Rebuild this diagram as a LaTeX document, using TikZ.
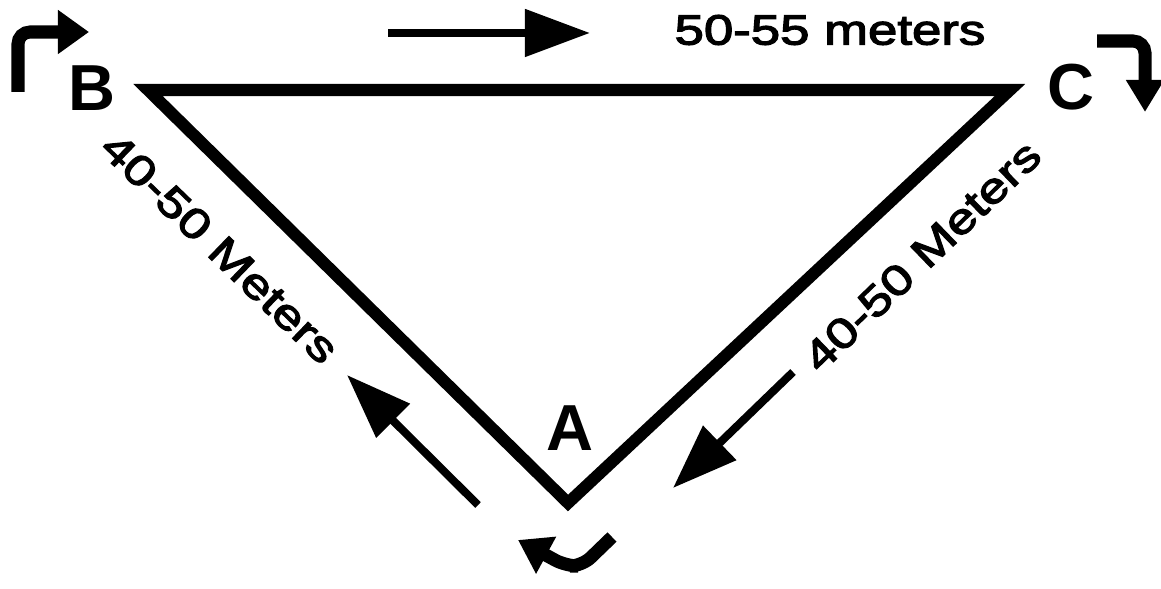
\documentclass[tikz,border=0pt]{standalone}
\usepackage{fontspec}
\setmainfont{Liberation Sans}
\newfontfamily\widefont[FakeStretch=1.25,FakeBold=3]{Liberation Sans}
\usetikzlibrary{arrows.meta}

\begin{document}
\begin{tikzpicture}[x=0.01cm,y=-0.01cm,
	side/.style={line width=0.12cm,line join=miter},
	move/.style={line width=0.08cm,-{Triangle[length=0.65cm,width=0.46cm]}},
	turn/.style={line width=0.13cm,rounded corners=0.12cm},
	corner/.style={font=\bfseries\fontsize{18.5}{20}\selectfont},
	dist/.style={font=\widefont\fontsize{12}{14}\selectfont}]
		\useasboundingbox (0,0) rectangle (1161,588);
		\coordinate (B) at (148,90);
		\coordinate (C) at (1010,90);
		\coordinate (A) at (568,503);
		\draw[side] (B) -- (C) -- (A) -- cycle;
		\node[corner] (labB) at (92,88) {B};
		\node[corner] (labC) at (1071,87) {C};
		\node[corner] (labA) at (570,428) {A};
		\node[dist] (distBC) at (830,30) {50-55 meters};
		\node[dist,rotate=-44] (distBA) at (220,248) {40-50 Meters};
		\node[dist,rotate=44] (distCA) at (922,256) {40-50 Meters};
		\coordinate (topTail) at (388,33);
		\coordinate (topTip) at (590,33);
		\coordinate (leftTail) at (478,505);
		\coordinate (leftTip) at (347,375);
		\coordinate (rightTail) at (793,372);
		\coordinate (rightTip) at (673,488);
		\draw[move] (topTail) -- (topTip);
		\draw[move] (leftTail) -- (leftTip);
		\draw[move] (rightTail) -- (rightTip);
		\coordinate (turnBStart) at (18,92);
		\coordinate (turnBEnd) at (89,32);
		\coordinate (turnCStart) at (1097,41);
		\coordinate (turnCEnd) at (1145,112);
		\coordinate (turnAStart) at (612,537);
		\coordinate (turnAEnd) at (518,540);
		\draw[turn,-{Triangle[length=0.31cm,width=0.42cm]}] (turnBStart) |- (turnBEnd);
		\draw[turn,-{Triangle[length=0.32cm,width=0.36cm]}] (turnCStart) -| (turnCEnd);
		\draw[turn,-{Triangle[length=0.32cm,width=0.40cm]}] (turnAStart) -- (582,566) -- (566,566) -- (turnAEnd);
\end{tikzpicture}
\end{document}
